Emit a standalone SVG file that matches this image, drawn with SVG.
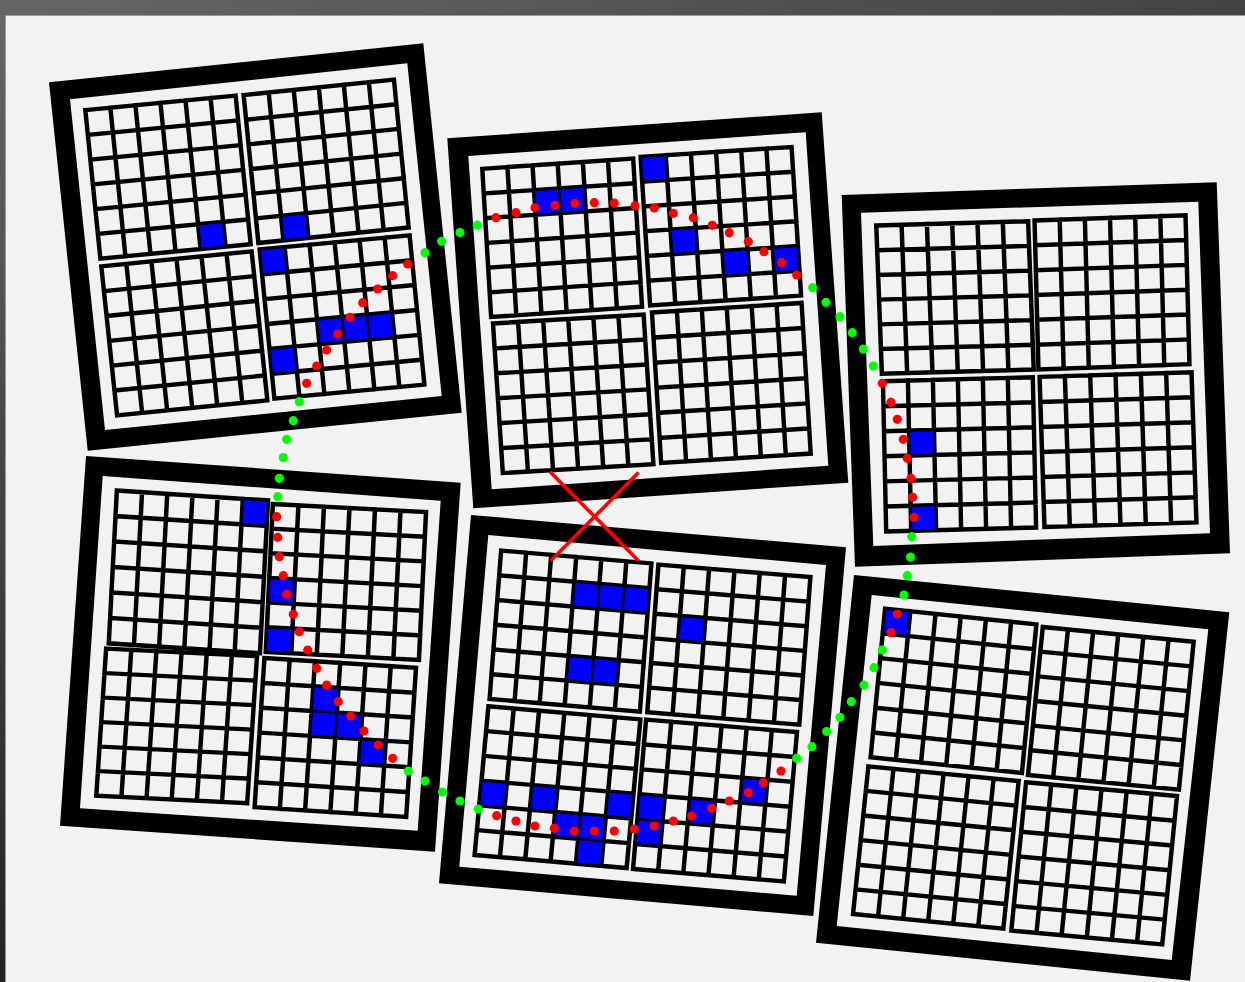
<svg xmlns="http://www.w3.org/2000/svg" xmlns:xlink="http://www.w3.org/1999/xlink" width="1245" height="982" viewBox="0 0 1245 982">
<style>
.frame{fill:#000;fill-rule:evenodd}
.grid{fill:none;stroke:#000;stroke-width:4.4;stroke-linecap:square}
.b{fill:#0000ff}
.rdots{fill:none;stroke:none;marker-start:url(#rd);marker-mid:url(#rd);marker-end:url(#rd)}
.gdots{fill:none;stroke:none;marker-start:url(#gd);marker-mid:url(#gd);marker-end:url(#gd)}
.x{stroke:#ff0000;stroke-width:3.5;fill:none}
</style>
<defs>
<linearGradient id="edge" gradientUnits="userSpaceOnUse" x1="0" y1="0" x2="496" y2="1253">
<stop offset="0" stop-color="#666666"/><stop offset="1" stop-color="#020202"/>
</linearGradient>
<path id="grid" class="grid" d="M1.2 1.2H150.8V150.8H1.2Z M26.13 1.2V150.8 M51.06 1.2V150.8 M75.99 1.2V150.8 M100.92 1.2V150.8 M125.85 1.2V150.8 M1.2 26.13H150.8 M1.2 51.06H150.8 M1.2 75.99H150.8 M1.2 100.92H150.8 M1.2 125.85H150.8"/>
<marker id="rd" markerUnits="userSpaceOnUse" markerWidth="10" markerHeight="10" refX="5" refY="5" overflow="visible"><circle cx="5" cy="5" r="4.6" fill="#ff0000"/></marker>
<marker id="gd" markerUnits="userSpaceOnUse" markerWidth="10" markerHeight="10" refX="5" refY="5" overflow="visible"><circle cx="5" cy="5" r="4.6" fill="#00ff00"/></marker>
</defs>
<rect x="0" y="0" width="1245" height="982" fill="url(#edge)"/>
<rect x="5" y="15" width="1240" height="967" fill="#9a9a9a"/>
<rect x="6" y="16" width="1239" height="966" fill="#f2f2f2"/>

<g id="board1">
<path class="frame" d="M49 82.3L423.3 43.3L461.7 412.7L87.7 450.7Z M70 99.3L407.3 63.3L441.7 396L105 430Z"/>
<g transform="matrix(1.0046 -0.0967 0.1007 0.9934 84 109)"><use href="#grid"/><rect class="b" x="102.12" y="127.05" width="22.5" height="22.5"/></g>
<g transform="matrix(1.0046 -0.1033 0.0987 0.9888 242.3 94)"><use href="#grid"/><rect class="b" x="27.33" y="127.05" width="22.5" height="22.5"/></g>
<g transform="matrix(1.0046 -0.1007 0.1053 0.9961 100 265.3)"><use href="#grid"/></g>
<g transform="matrix(1.0026 -0.0941 0.0987 0.998 258.3 248.3)"><use href="#grid"/><rect class="b" x="2.4" y="2.4" width="22.5" height="22.5"/><rect class="b" x="52.26" y="77.19" width="22.5" height="22.5"/><rect class="b" x="77.19" y="77.19" width="22.5" height="22.5"/><rect class="b" x="102.12" y="77.19" width="22.5" height="22.5"/><rect class="b" x="2.4" y="102.12" width="22.5" height="22.5"/></g>
</g>

<g id="board2">
<path class="frame" d="M447.3 138.3L821.7 112.3L848.3 482.7L473.3 508.3Z M468.3 156L805.7 132.3L828.3 465.7L491.7 489.3Z"/>
<g transform="matrix(1.0086 -0.0684 0.0592 0.9908 481 167.7)"><use href="#grid"/><rect class="b" x="52.26" y="27.33" width="22.5" height="22.5"/><rect class="b" x="77.19" y="27.33" width="22.5" height="22.5"/></g>
<g transform="matrix(1.0092 -0.0658 0.0638 0.9934 639.3 155.7)"><use href="#grid"/><rect class="b" x="2.4" y="2.4" width="22.5" height="22.5"/><rect class="b" x="27.33" y="77.19" width="22.5" height="22.5"/><rect class="b" x="77.19" y="102.12" width="22.5" height="22.5"/><rect class="b" x="127.05" y="102.12" width="22.5" height="22.5"/></g>
<g transform="matrix(1.0066 -0.0592 0.0658 1.0 491.7 322.3)"><use href="#grid"/></g>
<g transform="matrix(1.0 -0.0632 0.0612 1.0066 650.7 311.3)"><use href="#grid"/></g>
</g>

<g id="board3">
<path class="frame" d="M841.7 195L1216.7 182.3L1230 553.3L855 566.7Z M861 212.7L1198.3 201.7L1210 533.3L873.3 546Z"/>
<g transform="matrix(1.0151 -0.0283 0.0375 0.9914 875 224.3)"><use href="#grid"/></g>
<g transform="matrix(1.0092 -0.0349 0.0263 0.9961 1033.3 219.3)"><use href="#grid"/></g>
<g transform="matrix(1.002 -0.0263 0.0217 1.0046 881.7 380)"><use href="#grid"/><rect class="b" x="27.33" y="52.26" width="22.5" height="22.5"/><rect class="b" x="27.33" y="127.05" width="22.5" height="22.5"/></g>
<g transform="matrix(1.0158 -0.0309 0.0329 1.0039 1038.3 375.7)"><use href="#grid"/></g>
</g>

<g id="board4">
<path class="frame" d="M86 456L460.7 482.7L435 851.7L60 825.7Z M102.7 476L440.7 500.7L417.7 830.7L80 808.3Z"/>
<g transform="matrix(1.0105 0.0658 -0.0539 1.0211 115.7 489.3)"><use href="#grid"/><rect class="b" x="127.05" y="2.4" width="22.5" height="22.5"/></g>
<g transform="matrix(1.0237 0.0546 -0.0474 0.9888 271.7 502.7)"><use href="#grid"/><rect class="b" x="2.4" y="77.19" width="22.5" height="22.5"/><rect class="b" x="2.4" y="127.05" width="22.5" height="22.5"/></g>
<g transform="matrix(1.0086 0.0507 -0.0658 0.9829 105 647.3)"><use href="#grid"/></g>
<g transform="matrix(1.0132 0.0658 -0.0658 0.9974 263.3 656.7)"><use href="#grid"/><rect class="b" x="52.26" y="27.33" width="22.5" height="22.5"/><rect class="b" x="52.26" y="52.26" width="22.5" height="22.5"/><rect class="b" x="77.19" y="52.26" width="22.5" height="22.5"/><rect class="b" x="102.12" y="77.19" width="22.5" height="22.5"/></g>
</g>

<g id="board5">
<path class="frame" d="M471 515L846 547.3L813.3 916L439 883.3Z M488.3 535L826 565L796.7 895.7L459.3 866.7Z"/>
<g transform="matrix(1.0046 0.0855 -0.077 0.9914 500 549.3)"><use href="#grid"/><rect class="b" x="77.19" y="27.33" width="22.5" height="22.5"/><rect class="b" x="102.12" y="27.33" width="22.5" height="22.5"/><rect class="b" x="127.05" y="27.33" width="22.5" height="22.5"/><rect class="b" x="77.19" y="102.12" width="22.5" height="22.5"/><rect class="b" x="102.12" y="102.12" width="22.5" height="22.5"/></g>
<g transform="matrix(1.0158 0.0836 -0.0743 0.9868 657.3 563.3)"><use href="#grid"/><rect class="b" x="27.33" y="52.26" width="22.5" height="22.5"/></g>
<g transform="matrix(1.0158 0.0875 -0.0921 0.9934 487.3 705)"><use href="#grid"/><rect class="b" x="2.4" y="77.19" width="22.5" height="22.5"/><rect class="b" x="52.26" y="77.19" width="22.5" height="22.5"/><rect class="b" x="127.05" y="77.19" width="22.5" height="22.5"/><rect class="b" x="77.19" y="102.12" width="22.5" height="22.5"/><rect class="b" x="102.12" y="102.12" width="22.5" height="22.5"/><rect class="b" x="102.12" y="127.05" width="22.5" height="22.5"/></g>
<g transform="matrix(1.0086 0.0836 -0.0875 0.998 645 718.3)"><use href="#grid"/><rect class="b" x="102.12" y="52.26" width="22.5" height="22.5"/><rect class="b" x="2.4" y="77.19" width="22.5" height="22.5"/><rect class="b" x="52.26" y="77.19" width="22.5" height="22.5"/><rect class="b" x="2.4" y="102.12" width="22.5" height="22.5"/></g>
</g>

<g id="board6">
<path class="frame" d="M854 575L1229.3 612.3L1190 980.7L816 942.7Z M871.7 595L1208.3 629.3L1171.7 960L836.7 926Z"/>
<g transform="matrix(1.0112 0.1053 -0.0967 0.9934 884 607.3)"><use href="#grid"/><rect class="b" x="2.4" y="2.4" width="22.5" height="22.5"/></g>
<g transform="matrix(1.0086 0.0987 -0.0987 0.9888 1041.7 625.7)"><use href="#grid"/></g>
<g transform="matrix(1.0046 0.0987 -0.1026 0.9868 867.3 765)"><use href="#grid"/></g>
<g transform="matrix(1.0086 0.0921 -0.0987 0.9914 1025 781)"><use href="#grid"/></g>
</g>

<g id="connectors">
<polyline class="gdots" points="425,252.7 441.7,241.3 460,232.5 477.2,225.2"/>
<polyline class="rdots" points="496,217.7 516,212.7 535,207.7 555,205.3 575,203.3 594.3,202.7 614.3,203 635,205.7 654.3,208 673.3,213.3 693.3,217.7 712.3,225.3 729.3,232.7 748.3,241.7 764,251.7 781.7,262.7 796.7,275"/>
<polyline class="gdots" points="812.7,287.7 826,302.3 840,316.7 852.3,332.7 863.3,349 873.3,366"/>
<polyline class="rdots" points="882.3,383.3 891,402.3 897.3,419.3 903.3,439.3 907.3,458.3 911,478.3 912.7,497.3 914,517.3"/>
<polyline class="gdots" points="911.7,536.7 910.5,557 907.3,575.7 904,595"/>
<polyline class="rdots" points="897.3,614 891,632.7"/>
<polyline class="gdots" points="882.3,650 874,667.7 864,685 851.3,701.7 840,717.3 826.7,731.5 812,746.7 796.7,758.3"/>
<polyline class="rdots" points="781,771 763.3,782.7 748.3,792.7 729.3,801 711.7,808.3 691.7,816 673.3,821 654.3,826 634.3,829 614.3,831 594.3,831 574.3,831 554.3,828.3 535,826 516,821 496.7,815.7"/>
<polyline class="gdots" points="478.3,809 460,801 442.5,792 425,781 408.3,771"/>
<polyline class="rdots" points="392.7,758.3 378.3,745 364,731 350.7,716 338.3,701.7 326.7,685 316.7,668.3 307.7,650 299.3,631.7 293.3,614.3 286.7,594.3 283.3,575.7 279.3,556.7 277.7,537.3 276.7,516.7"/>
<polyline class="gdots" points="277.7,496.7 279.3,478.3 283.3,457.5 286.7,439.3 293.3,420.7 299.3,401.7"/>
<polyline class="rdots" points="306.7,383.3 316.7,366 326.7,350 337.7,334 350,317.3 362.7,302.7 377.7,289 392.7,275.7 407.7,264"/>
<path class="x" d="M550 471.7L638.5 560.7 M638.5 472.5L550.7 560.7"/>
</g>
</svg>
